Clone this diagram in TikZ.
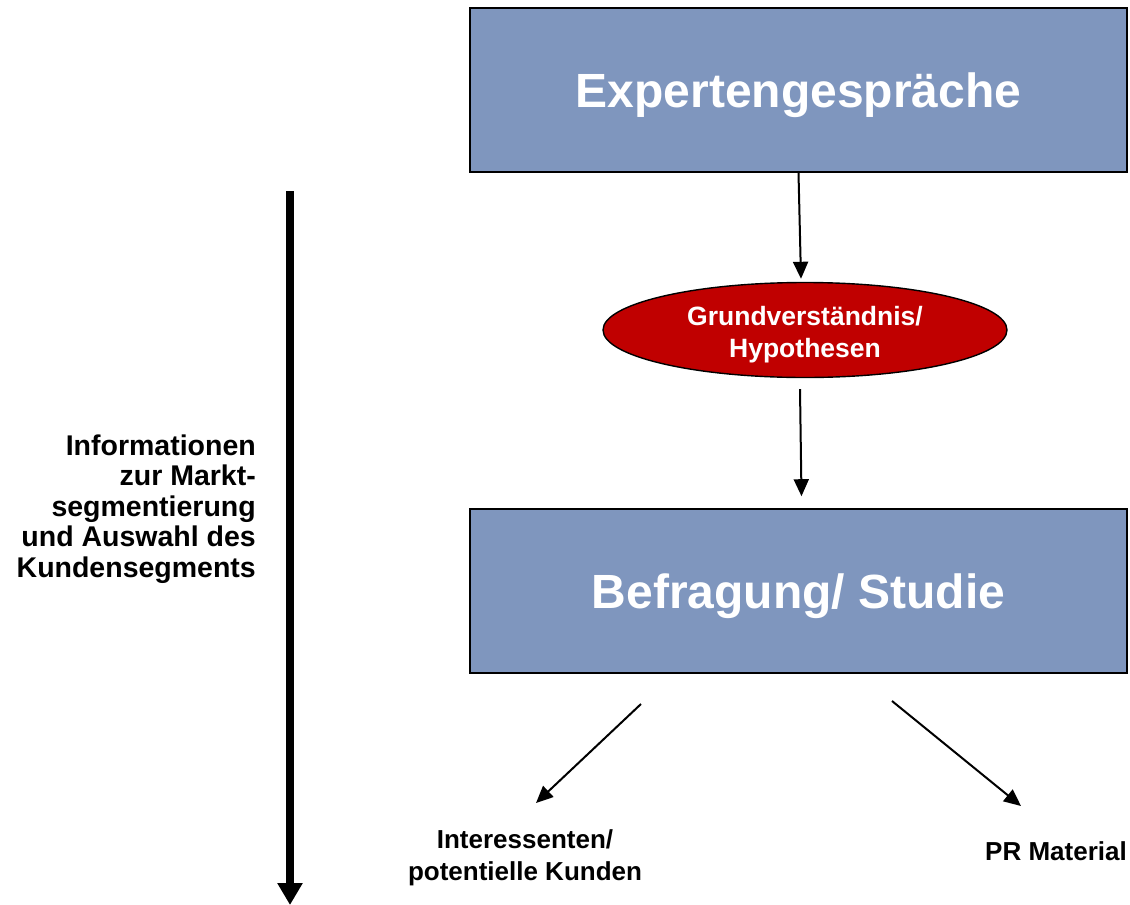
\documentclass[tikz,border=0pt]{standalone}
\usepackage{fontspec}
\setmainfont{Liberation Sans}
\usetikzlibrary{shapes.geometric,arrows.meta}
\definecolor{boxblue}{RGB}{127,150,190}
\definecolor{ellred}{RGB}{192,0,0}
\tikzset{
  bluebox/.style={draw=black, line width=1.6pt, fill=boxblue, minimum width=657pt, minimum height=164pt, inner sep=0pt, text height=45pt, text depth=10pt, text=white, font=\bfseries\fontsize{48}{55}\selectfont},
  redell/.style={ellipse, draw=black, line width=1.4pt, fill=ellred, minimum width=404pt, minimum height=95pt, inner sep=0pt},
  elltext/.style={inner sep=0pt, text=white, align=center, font=\bfseries\fontsize{26.5}{32}\selectfont},
  lbl/.style={inner sep=0pt, align=center, font=\bfseries\fontsize{26}{32}\selectfont},
  sidelbl/.style={inner sep=0pt, align=right, font=\bfseries\fontsize{28.5}{30.5}\selectfont},
  arr/.style={line width=2pt, -{Triangle[width=15pt,length=17pt]}},
  bigarr/.style={line width=8pt, -{Triangle[width=24pt,length=22pt]}}
}
\begin{document}
\begin{tikzpicture}[x=1pt,y=-1pt]
\useasboundingbox (0,0) rectangle (1130,905);
\node[bluebox] (box1) at (798.5,90) {Expertengespräche};
\node[redell] (ell) at (805,330) {};
\node[elltext] (elltxt) at (805,335) {Grundverständnis/\\Hypothesen};
\node[bluebox] (box2) at (798.5,591) {Befragung/ Studie};
\node[sidelbl, anchor=east] (side) at (256,509) {Informationen\\zur Markt-\\segmentierung\\und Auswahl des\\Kundensegments};
\node[lbl] (kunden) at (525,858) {Interessenten/\\potentielle Kunden};
\node[lbl] (pr) at (1056,851) {PR Material};
\coordinate (s1) at (641,704);
\coordinate (t1) at (536,803);
\coordinate (s2) at (892,701);
\coordinate (t2) at (1021,806);
\coordinate (btop) at (290,191);
\coordinate (bbot) at (290,905);
\draw[arr] (box1.south) -- ([xshift=-4pt,yshift=3pt]ell.north);
\draw[arr] ([xshift=-5pt,yshift=-11pt]ell.south) -- ([xshift=3pt,yshift=12pt]box2.north);
\draw[arr] (s1) -- (t1);
\draw[arr] (s2) -- (t2);
\draw[bigarr] (btop) -- (bbot);
\end{tikzpicture}
\end{document}
